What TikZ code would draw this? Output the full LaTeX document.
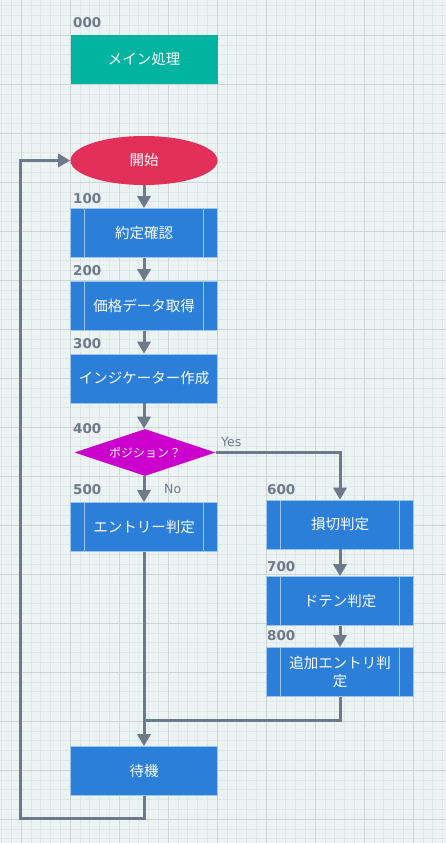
\documentclass[tikz,border=0pt]{standalone}
\usepackage{fontspec}
\setmainfont{Noto Sans CJK JP}
\newfontfamily\numfont{DejaVu Sans}
\usepackage{xcolor}
\usetikzlibrary{arrows.meta,shapes.geometric}

\definecolor{paper}{HTML}{EBF3F3}
\definecolor{gridminor}{HTML}{DEE8E9}
\definecolor{gridmajor}{HTML}{CFD5D5}
\definecolor{mainteal}{HTML}{00B4A0}
\definecolor{startred}{HTML}{E2305A}
\definecolor{procblue}{HTML}{2C7FD9}
\definecolor{boxedge}{HTML}{9CC6F0}
\definecolor{askmagenta}{HTML}{CC00CC}
\definecolor{linegray}{HTML}{6C7A8B}

\begin{document}
\begin{tikzpicture}[x=1pt, y=-1pt]
  \tikzstyle box=[fill=procblue, draw=boxedge, line width=0.6pt, minimum width=147pt,
     minimum height=49pt, inner sep=0pt, text=white, font=\fontsize{14.5}{18}\selectfont];
  \tikzstyle subbox=[box, path picture={
     \draw[boxedge, line width=1.5pt]
        ([xshift=14pt]path picture bounding box.north west) -- ([xshift=14pt]path picture bounding box.south west)
        ([xshift=-14pt]path picture bounding box.north east) -- ([xshift=-14pt]path picture bounding box.south east);}];
  \tikzstyle num=[anchor=base west, inner sep=0pt, text=linegray, font=\numfont\bfseries\fontsize{13.5}{15}\selectfont];
  \tikzstyle tag=[anchor=base west, inner sep=0pt, text=linegray, font=\numfont\fontsize{12.5}{15}\selectfont];
  \tikzstyle flow=[draw=linegray, line width=3pt, -{Triangle[width=13pt,length=12pt]}];

  \useasboundingbox (0,0) rectangle (446,843);
  \fill[paper] (0,0) rectangle (446,843);

  %the grid behind everything
  \foreach \gx in {1.4,11.2,...,446} \draw[gridminor, line width=0.5pt] (\gx,0) -- (\gx,843);
  \foreach \gy in {5.6,15.4,...,843} \draw[gridminor, line width=0.5pt] (0,\gy) -- (446,\gy);
  \foreach \gx in {21,70,...,446} \draw[gridmajor, line width=0.9pt] (\gx,0) -- (\gx,843);
  \foreach \gy in {35,84,...,843} \draw[gridmajor, line width=0.9pt] (0,\gy) -- (446,\gy);

  \node[box, fill=mainteal, draw=none] (main) at (144,59.5) {メイン処理};
  \node[box, ellipse, fill=startred, draw=none] (start) at (144,160.5) {開始};
  \node[subbox] (p100) at (144,233) {約定確認};
  \node[subbox] (p200) at (144,306) {価格データ取得};
  \node[box] (p300) at (144,378.5) {インジケーター作成};
  \node[box, diamond, aspect=3, fill=askmagenta, draw=none, minimum width=141pt,
     minimum height=47pt, font=\fontsize{12}{14}\selectfont] (p400) at (145,452.5) {ポジション？};
  \node[subbox] (p500) at (144,527) {エントリー判定};
  \node[subbox] (p600) at (340,524.5) {損切判定};
  \node[subbox] (p700) at (340,601) {ドテン判定};
  \node[subbox, align=center] (p800) at (340,672) {追加エントリ判\\定};
  \node[box] (wait) at (144,771) {待機};

  \node[num] (l000) at (73,28) {000};
  \node[num] (l100) at (73,203) {100};
  \node[num] (l200) at (73,275) {200};
  \node[num] (l300) at (73,348) {300};
  \node[num] (l400) at (73,433) {400};
  \node[num] (l500) at (73,494) {500};
  \node[num] (l600) at (267,494) {600};
  \node[num] (l700) at (267,571) {700};
  \node[num] (l800) at (267,640) {800};

  \node[tag] (yes) at (221,446) {Yes};
  \node[tag] (no) at (164,493) {No};

  \coordinate (join) at (144,720);
  \coordinate (loop) at (20,818);

  \draw[flow] (start) -- (p100);
  \draw[flow] (p100) -- (p200);
  \draw[flow] (p200) -- (p300);
  \draw[flow] (p300) -- (p300 |- p400.north);
  \draw[flow] (p400.south -| p500) -- (p500);
  \draw[flow] (p400.east) -| (p600.north);
  \draw[flow] (p600) -- (p700);
  \draw[flow] (p700) -- (p800);
  \draw[flow, -] (p800.south) |- (join);
  \draw[flow] (p500) -- (wait);
  \draw[flow] (wait.south) |- (loop) |- (start.west);

\end{tikzpicture}
\end{document}
